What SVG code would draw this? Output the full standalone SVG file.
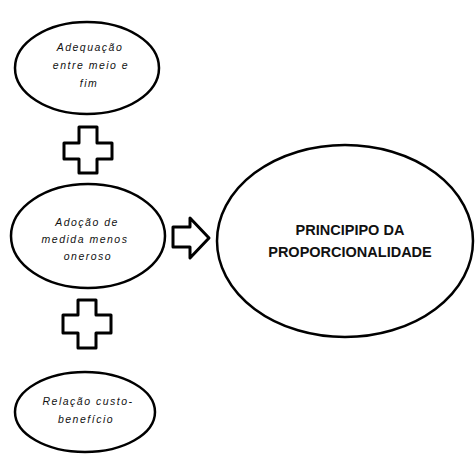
<svg xmlns="http://www.w3.org/2000/svg" width="475" height="458" viewBox="0 0 475 458">
  <style>
    .oval { fill: #ffffff; stroke: #000000; stroke-width: 2.5; }
    .sym { fill: #ffffff; stroke: #000000; stroke-width: 3; stroke-linejoin: round; }
    .small { font-family: "Liberation Sans", Arial, sans-serif; font-style: italic; font-size: 10.5px; letter-spacing: 1.5px; fill: #111111; text-anchor: middle; }
    .big { font-family: "Liberation Sans", Arial, sans-serif; font-weight: bold; font-size: 14.5px; fill: #111111; text-anchor: middle; }
  </style>
  <rect width="475" height="458" fill="#ffffff"/>

  <!-- plus signs and arrow linking the ovals -->
  <g id="connectors">
    <path class="sym" d="M79 127 H97 V143 H112 V159 H97 V173 H79 V159 H64 V143 H79 Z"/>
    <path class="sym" d="M78 300 H96 V315 H111 V333 H96 V348 H78 V333 H63 V315 H78 Z"/>
    <path class="sym" d="M173 227 H190 V218 L209 238 L190 258 V247 H173 Z"/>
  </g>

  <g id="adequacao">
    <ellipse class="oval" cx="87" cy="68" rx="72" ry="46"/>
    <text class="small" x="90" y="51">Adequação</text>
    <text class="small" x="91" y="69">entre meio e</text>
    <text class="small" x="89" y="87">fim</text>
  </g>

  <g id="adocao">
    <ellipse class="oval" cx="88" cy="236" rx="77" ry="52"/>
    <text class="small" x="87" y="226">Adoção de</text>
    <text class="small" x="85" y="243">medida menos</text>
    <text class="small" x="88" y="260">oneroso</text>
  </g>

  <g id="relacao">
    <ellipse class="oval" cx="85" cy="412" rx="70" ry="40"/>
    <text class="small" x="88" y="405">Relação custo-</text>
    <text class="small" x="86" y="423">benefício</text>
  </g>

  <g id="principio">
    <ellipse class="oval" cx="345" cy="241" rx="128" ry="96"/>
    <text class="big" x="350" y="235">PRINCIPIPO DA</text>
    <text class="big" x="350" y="257">PROPORCIONALIDADE</text>
  </g>
</svg>
